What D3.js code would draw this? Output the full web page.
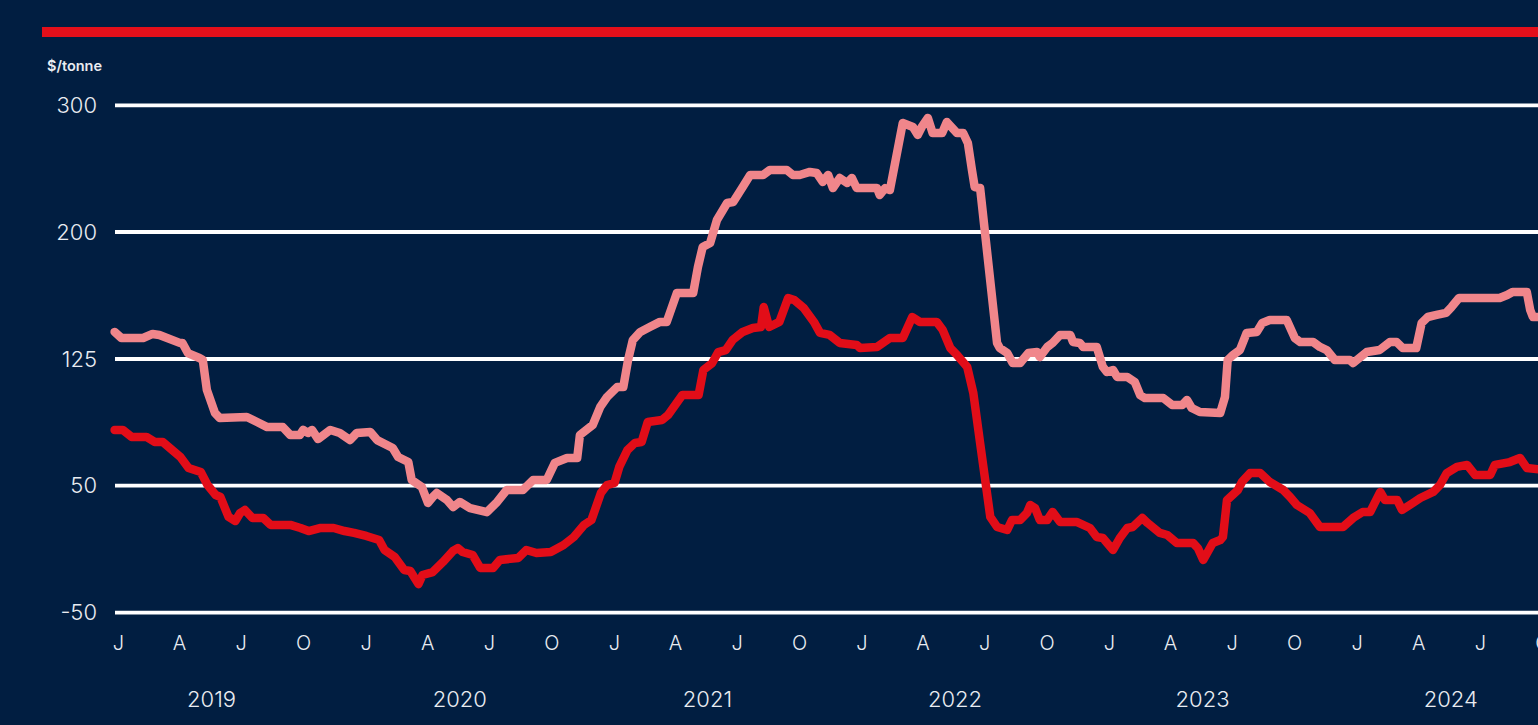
<!DOCTYPE html>
<html>
<head>
<meta charset="utf-8">
<script src="https://cdn.jsdelivr.net/npm/d3@7"></script>
<style>
  body { margin: 0; background: #011e41; overflow: hidden; }
  svg text { font-family: Inter, "Open Sans", sans-serif; fill: #e9ecf1; }
</style>
</head>
<body>
<svg id="chart" width="1538" height="725"></svg>
<script>
// ---- data ($/tonne) ----
var yTicks = [-50, 50, 125, 200, 300];
var years = [2019, 2020, 2021, 2022, 2023, 2024];
var monthLetters = ["J", "A", "J", "O"];

// light (pink) series
var lightSeries = [
  ["2018-12-27",141],["2019-01-06",137.4],["2019-02-07",137.4],["2019-02-21",139.8],["2019-03-03",139.2],
  ["2019-04-02",134.5],["2019-04-06",134.5],["2019-04-14",128.5],["2019-05-01",125.6],["2019-05-06",124.4],
  ["2019-05-12",106.7],["2019-05-24",93],["2019-05-31",90.1],["2019-07-10",90.7],["2019-07-25",87.7],
  ["2019-08-09",84.7],["2019-09-01",84.7],["2019-09-12",80],["2019-09-26",80],["2019-10-01",83],
  ["2019-10-08",81.2],["2019-10-14",83],["2019-10-23",77.6],["2019-11-10",83],["2019-11-24",81.2],
  ["2019-12-09",77],["2019-12-19",81.2],["2020-01-08",81.8],["2020-01-18",77],["2020-02-10",72.3],
  ["2020-02-18",67],["2020-03-04",64],["2020-03-09",53.4],["2020-03-24",49],["2020-04-02",36.4],
  ["2020-04-09",41.1],["2020-04-15",44.3],["2020-04-30",38.7],["2020-05-09",33.2],["2020-05-19",37.2],
  ["2020-06-03",32.4],["2020-06-28",29.2],["2020-07-13",37.2],["2020-07-27",46.6],["2020-08-20",46.6],
  ["2020-09-04",53.4],["2020-09-24",53.4],["2020-10-06",63.5],["2020-10-24",66.4],["2020-11-08",66.4],
  ["2020-11-12",80],["2020-12-01",86],["2020-12-12",96.6],["2020-12-22",102.5],["2021-01-06",108.4],
  ["2021-01-15",108.4],["2021-01-22",124.4],["2021-01-29",136.2],["2021-02-09",141],["2021-02-23",143.9],
  ["2021-03-10",146.9],["2021-03-20",146.9],["2021-04-04",164],["2021-04-28",164],["2021-05-05",179.3],
  ["2021-05-12",191.2],["2021-05-23",193.5],["2021-06-02",209.5],["2021-06-17",222.9],["2021-06-26",223.7],
  ["2021-07-10",235.5],["2021-07-21",245],["2021-08-09",245],["2021-08-19",248.9],["2021-09-13",248.9],
  ["2021-09-22",245],["2021-10-02",245],["2021-10-17",247.4],["2021-10-27",246.6],["2021-11-05",239.5],
  ["2021-11-13",245],["2021-11-20",234.7],["2021-11-30",242.6],["2021-12-11",238.7],["2021-12-18",242.6],
  ["2021-12-25",234.7],["2022-01-24",234.7],["2022-01-28",229.2],["2022-02-05",234.7],["2022-02-12",233.1],
  ["2022-03-03",286],["2022-03-18",282.9],["2022-03-25",276.6],["2022-03-31",282.9],["2022-04-09",290],
  ["2022-04-16",278.1],["2022-04-30",278.1],["2022-05-07",286.8],["2022-05-22",278.1],["2022-05-31",278.1],
  ["2022-06-07",270.2],["2022-06-13",248.9],["2022-06-17",235.5],["2022-06-25",234.7],["2022-07-20",134.5],
  ["2022-07-24",131.5],["2022-08-04",128.5],["2022-08-12",122.6],["2022-08-23",122.6],["2022-09-04",128.5],
  ["2022-09-17",129.1],["2022-09-21",126.2],["2022-10-02",132.1],["2022-10-10",134.5],["2022-10-21",139.2],
  ["2022-11-05",139.2],["2022-11-09",135],["2022-11-19",134.5],["2022-11-24",132.1],["2022-12-14",132.1],
  ["2022-12-23",120.3],["2022-12-29",117.3],["2023-01-07",118.5],["2023-01-13",114.4],["2023-01-28",114.4],
  ["2023-02-08",111.4],["2023-02-16",103.6],["2023-02-23",101.9],["2023-03-22",101.9],["2023-04-04",97.8],
  ["2023-04-19",97.8],["2023-04-26",100.7],["2023-05-03",96],["2023-05-15",93.6],["2023-06-14",93],
  ["2023-06-21",102.5],["2023-06-25",124.4],["2023-07-03",127.4],["2023-07-13",130.3],["2023-07-23",140.4],
  ["2023-08-07",141],["2023-08-15",146.3],["2023-08-26",148],["2023-09-20",148],["2023-10-02",137.4],
  ["2023-10-10",135],["2023-10-29",135],["2023-11-08",132.1],["2023-11-18",130.3],["2023-11-30",124.4],
  ["2023-12-22",124.4],["2023-12-27",122.6],["2024-01-16",129.1],["2024-02-04",130.3],["2024-02-19",135],
  ["2024-02-29",135],["2024-03-09",131.5],["2024-03-29",131.5],["2024-04-06",146.3],["2024-04-15",149.8],
  ["2024-04-28",151],["2024-05-12",152.2],["2024-05-20",155.7],["2024-05-31",161],["2024-07-30",161],
  ["2024-08-10",162.8],["2024-08-18",164.6],["2024-09-08",164.6],["2024-09-13",153.9],["2024-09-17",149.8],
  ["2024-10-05",149.8]
];

// dark (red) series
var darkSeries = [
  ["2018-12-27",83],["2019-01-08",83],["2019-01-21",78.9],["2019-02-12",78.9],["2019-02-24",75.9],
  ["2019-03-08",75.9],["2019-04-03",67],["2019-04-15",60.5],["2019-05-03",58.1],["2019-05-13",50.4],
  ["2019-05-25",42.7],["2019-06-01",41.1],["2019-06-13",25.4],["2019-06-23",22.2],["2019-06-30",28.5],
  ["2019-07-07",30.9],["2019-07-18",24.6],["2019-08-03",24.6],["2019-08-14",19.1],["2019-09-12",19.1],
  ["2019-09-27",16.7],["2019-10-09",14.3],["2019-10-27",16.7],["2019-11-15",16.7],["2019-12-01",14.3],
  ["2019-12-15",12.8],["2020-01-02",10.4],["2020-01-21",7.2],["2020-01-29",-0.6],["2020-02-13",-6.2],
  ["2020-02-27",-16.4],["2020-03-07",-17.2],["2020-03-19",-27.5],["2020-03-25",-20.3],["2020-04-09",-18],
  ["2020-04-24",-10.1],["2020-05-09",-1.4],["2020-05-16",0.9],["2020-05-23",-2.2],["2020-06-07",-4.6],
  ["2020-06-18",-14.8],["2020-07-07",-14.8],["2020-07-17",-8.5],["2020-08-13",-6.9],["2020-08-25",-0.6],
  ["2020-09-09",-3],["2020-09-30",-2.2],["2020-10-19",3.3],["2020-11-03",9.6],["2020-11-18",19.1],
  ["2020-11-29",23],["2020-12-13",44.3],["2020-12-22",50.4],["2021-01-02",51.6],["2021-01-09",61.1],
  ["2021-01-21",71.1],["2021-02-01",75.3],["2021-02-11",75.9],["2021-02-20",87.7],["2021-03-13",88.9],
  ["2021-03-22",91.9],["2021-04-12",103.7],["2021-05-06",103.7],["2021-05-13",118.5],["2021-05-26",122.6],
  ["2021-06-04",129.1],["2021-06-15",130.3],["2021-06-25",136.2],["2021-07-10",141],["2021-07-25",143.3],
  ["2021-08-06",143.9],["2021-08-10",155.7],["2021-08-18",143.9],["2021-09-02",146.9],["2021-09-15",161],
  ["2021-09-24",159.8],["2021-10-08",155.1],["2021-10-23",146.9],["2021-11-01",140.4],["2021-11-15",139.2],
  ["2021-11-30",134.5],["2021-12-25",133.3],["2021-12-30",131.5],["2022-01-24",132.1],["2022-02-12",137.4],
  ["2022-03-03",137.4],["2022-03-17",149.8],["2022-03-28",146.9],["2022-04-22",146.9],["2022-05-01",142.1],
  ["2022-05-12",131.5],["2022-05-22",127.4],["2022-06-06",120.3],["2022-06-15",104.9],["2022-06-25",75.3],
  ["2022-07-10",25.4],["2022-07-20",17.5],["2022-08-04",15.1],["2022-08-11",23],["2022-08-23",23],
  ["2022-09-02",28.5],["2022-09-07",34.8],["2022-09-14",32.4],["2022-09-21",23],["2022-10-02",23],
  ["2022-10-10",29.3],["2022-10-21",21.4],["2022-11-15",21.4],["2022-12-04",16.7],["2022-12-14",9.6],
  ["2022-12-23",8.8],["2023-01-07",-0.6],["2023-01-17",8.8],["2023-01-28",16.7],["2023-02-05",17.5],
  ["2023-02-19",24.6],["2023-02-27",20.6],["2023-03-17",12.8],["2023-03-28",11.2],["2023-04-11",4.9],
  ["2023-05-05",4.9],["2023-05-12",0.9],["2023-05-20",-8.5],["2023-06-03",4.9],["2023-06-14",7.2],
  ["2023-06-18",9.6],["2023-06-24",38.7],["2023-07-10",46.6],["2023-07-16",52.2],["2023-07-28",57.5],
  ["2023-08-12",57.5],["2023-08-26",52.2],["2023-09-15",46.6],["2023-09-25",41.1],["2023-10-05",34.8],
  ["2023-10-24",28.5],["2023-11-08",17.5],["2023-12-12",17.5],["2023-12-27",24.6],["2024-01-10",29.3],
  ["2024-01-21",29.3],["2024-02-05",45.1],["2024-02-12",38.7],["2024-03-01",38.7],["2024-03-08",30.9],
  ["2024-03-24",36.4],["2024-04-04",40.3],["2024-04-23",45.1],["2024-05-03",50.4],["2024-05-13",57.5],
  ["2024-05-28",61.1],["2024-06-12",62.3],["2024-06-24",56.3],["2024-07-16",56.3],["2024-07-23",62.3],
  ["2024-08-14",64],["2024-08-29",66.4],["2024-09-08",60.5],["2024-10-05",59.3]
];

var parseDate = d3.timeParse("%Y-%m-%d");

var svg = d3.select("#chart");
var W = 1538, H = 725;

svg.append("rect").attr("width", W).attr("height", H).attr("fill", "#011e41");

// red band on top
svg.append("rect")
    .attr("x", 42).attr("y", 27)
    .attr("width", W - 42).attr("height", 10)
    .attr("fill", "#e30f1a");

var x = d3.scaleTime()
    .domain([new Date(2019, 0, 1), new Date(2024, 6, 1)])
    .range([118, 1480]);

// tick values sit at equal spacing on the original chart
var y = d3.scaleLinear()
    .domain(yTicks)
    .range([612.7, 485.7, 359, 232, 105.3]);

/*========== grid lines ===========*/
svg.append("g")
    .selectAll("line")
    .data(yTicks)
    .enter()
    .append("line")
    .attr("x1", 115)
    .attr("x2", W)
    .attr("y1", function (d) { return y(d); })
    .attr("y2", function (d) { return y(d); })
    .attr("stroke", "#ffffff")
    .attr("stroke-width", 3.8);

/*========== y axis labels ===========*/
var yAxis = svg.append("g")
    .attr("transform", "translate(97,0)")
    .call(d3.axisLeft(y).tickValues(yTicks).tickSize(0).tickPadding(0)
        .tickFormat(function (d) { return String(d); }));
yAxis.select(".domain").remove();
yAxis.selectAll("text")
    .style("font-size", "22px")
    .style("font-weight", 300)
    .style("fill", "#e9ecf1");

svg.append("text")
    .attr("x", 47).attr("y", 71)
    .style("font-size", "14.5px")
    .style("font-weight", 600)
    .text("$/tonne");

/*========== x axis ===========*/
var monthTicks = d3.timeMonth.every(3).range(new Date(2019, 0, 1), new Date(2024, 9, 2));
var xAxis = svg.append("g")
    .attr("transform", "translate(0,620)")
    .call(d3.axisBottom(x)
        .tickValues(monthTicks)
        .tickSize(0)
        .tickPadding(16)
        .tickFormat(function (d) { return monthLetters[d.getMonth() / 3]; }));
xAxis.select(".domain").remove();
xAxis.selectAll("text")
    .style("font-size", "20px")
    .style("font-weight", 300)
    .style("fill", "#e9ecf1");

svg.append("g")
    .selectAll("text")
    .data(years)
    .enter()
    .append("text")
    .attr("x", function (d) { return x(new Date(d, 4, 19)); })
    .attr("y", 707)
    .attr("text-anchor", "middle")
    .style("font-size", "22px")
    .style("font-weight", 300)
    .text(function (d) { return d; });

/*========== lines ===========*/
var line = d3.line()
    .x(function (d) { return x(parseDate(d[0])); })
    .y(function (d) { return y(d[1]); });

svg.append("path")
    .datum(lightSeries)
    .attr("d", line)
    .attr("fill", "none")
    .attr("stroke", "#f0868b")
    .attr("stroke-width", 8.5)
    .attr("stroke-linejoin", "round")
    .attr("stroke-linecap", "round");

svg.append("path")
    .datum(darkSeries)
    .attr("d", line)
    .attr("fill", "none")
    .attr("stroke", "#e20d18")
    .attr("stroke-width", 8.5)
    .attr("stroke-linejoin", "round")
    .attr("stroke-linecap", "round");
</script>
</body>
</html>
